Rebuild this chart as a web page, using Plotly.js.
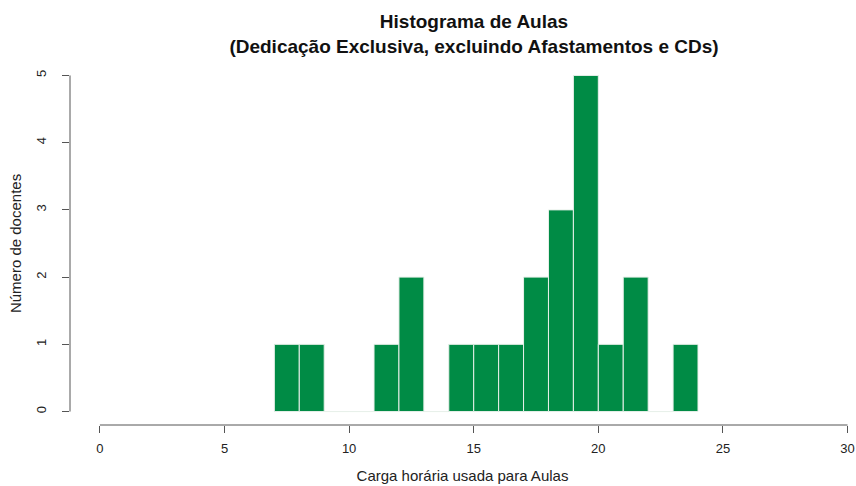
<!DOCTYPE html>
<html>
<head>
<meta charset="utf-8">
<script src="https://cdn.plot.ly/plotly-3.0.1.min.js"></script>
<style>html,body{margin:0;padding:0;background:#fff;}#chart{width:856px;height:486px;}</style>
</head>
<body>
<div id="chart"></div>
<script>
// Histogram bins (width 1) and counts
const binStarts = [7, 8, 9, 10, 11, 12, 13, 14, 15, 16, 17, 18, 19, 20, 21, 22, 23];
const counts    = [1, 1, 0, 0, 1, 2, 0, 1, 1, 1, 2, 3, 5, 1, 2, 0, 1];
const binWidth = 1;
const xTicks = [0, 5, 10, 15, 20, 25, 30];
const yTicks = [0, 1, 2, 3, 4, 5];

const titleText = 'Histograma de Aulas<br>(Dedicação Exclusiva, excluindo Afastamentos e CDs)';
const xTitle = 'Carga horária usada para Aulas';
const yTitle = 'Número de docentes';

const FONT = '"Liberation Sans", Arial, Helvetica, sans-serif';
const axisGray = '#555555';

const centers = binStarts.map(s => s + binWidth / 2);

const trace = {
  type: 'bar',
  x: centers,
  y: counts,
  width: binStarts.map(() => binWidth),
  marker: { color: '#008B45', line: { color: '#e8f0ea', width: 1 } },
  hoverinfo: 'x+y'
};

const layout = {
  width: 856, height: 486,
  margin: { l: 70, r: 1, t: 62, b: 61, pad: 0 },
  paper_bgcolor: '#ffffff', plot_bgcolor: '#ffffff',
  showlegend: false,
  font: { family: FONT, color: '#222222', size: 12 },
  title: {
    text: titleText,
    font: { family: FONT, size: 19, color: '#111111', weight: 'bold' },
    xref: 'container', x: 474 / 856, xanchor: 'center',
    yref: 'container', y: 1 - 28 / 486, yanchor: 'bottom'
  },
  xaxis: {
    range: [-1.2, 30.3], autorange: false,
    showgrid: false, zeroline: false, showline: false,
    tickmode: 'array', tickvals: xTicks, ticktext: xTicks.map(String),
    ticks: 'outside', ticklen: 7, tickwidth: 1, tickcolor: axisGray,
    ticklabelstandoff: 4,
    tickfont: { family: FONT, size: 13, color: '#222' },
    title: { text: xTitle, font: { family: FONT, size: 15, color: '#222' }, standoff: 15 },
    automargin: false, fixedrange: true
  },
  yaxis: {
    range: [-0.2, 5.2], autorange: false,
    showgrid: false, zeroline: false, showline: false,
    tickmode: 'array', tickvals: yTicks, ticktext: yTicks.map(String),
    ticks: 'outside', ticklen: 7, tickwidth: 1, tickcolor: axisGray,
    tickangle: -90, ticklabelstandoff: 11,
    tickfont: { family: FONT, size: 13, color: '#222' },
    title: { text: yTitle, font: { family: FONT, size: 15, color: '#222' }, standoff: 8 },
    automargin: false, fixedrange: true
  },
  shapes: [
    { type: 'line', xref: 'x', yref: 'paper', x0: xTicks[0], x1: xTicks[xTicks.length - 1], y0: 0, y1: 0,
      line: { color: axisGray, width: 1 } },
    { type: 'line', xref: 'paper', yref: 'y', x0: 0, x1: 0, y0: yTicks[0], y1: yTicks[yTicks.length - 1],
      line: { color: axisGray, width: 1 } }
  ]
};

Plotly.newPlot('chart', [trace], layout, { displayModeBar: false, staticPlot: true });
</script>
</body>
</html>
